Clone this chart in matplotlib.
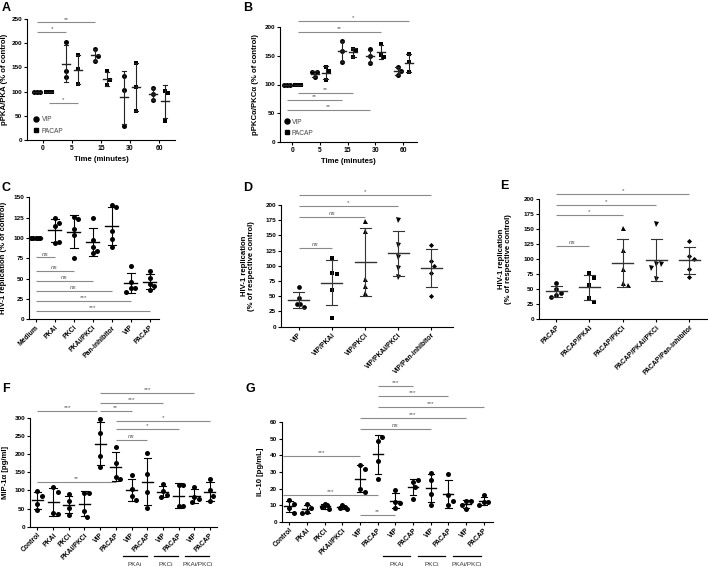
import numpy as np
import matplotlib
matplotlib.use('Agg')
import matplotlib.pyplot as plt
from matplotlib.lines import Line2D
import matplotlib.transforms as mtrans

plt.rcParams['font.family'] = ['Liberation Sans', 'DejaVu Sans']

# ---------------- data ----------------
time_labels = ['0', '5', '15', '30', '60']
a_vip = [[100, 100, 100], [202, 130, 142], [188, 164, 174], [133, 103, 28], [108, 83, 95]]
a_pacap = [[100, 100, 100], [175, 146, 115], [142, 114, 124], [160, 109, 60], [102, 97, 40]]
a_sig = [(-0.2, 1.8, 243, '**'), (-0.2, 0.8, 223, '*'), (0.2, 1.2, 76, '*')]

b_vip = [[100, 100, 100], [113, 122, 122], [176, 158, 139], [161, 149, 138], [131, 124, 116]]
b_pacap = [[100, 100, 100], [130, 124, 108], [161, 160, 147], [171, 152, 148], [153, 139, 122]]
b_sig = [(0.2, 4.2, 210, '*'), (0.2, 3.2, 192, '**'), (0.2, 2.2, 86, '**'),
         (-0.2, 1.8, 73, '**'), (-0.2, 2.8, 56, '**')]

c_cats = ['Medium', 'PKAi', 'PKCi', 'PKAi/PKCi', 'Pan-inhibitor', 'VIP', 'PACAP']
c_vals = [[100, 100, 100, 100, 100], [124, 119, 115, 94, 95], [126, 123, 111, 104, 75],
          [124, 97, 89, 84, 82], [141, 138, 109, 99, 89], [66, 46, 39, 39, 34], [60, 51, 44, 36, 41]]
c_sig = [(0, 1, 76, 'ns'), (0, 2, 60, 'ns'), (0, 3, 47.5, 'ns'), (0, 4, 35, 'ns'),
         (0, 5, 23, '***'), (0, 6, 10.6, '***')]

d_cats = ['VIP', 'VIP/PKAi', 'VIP/PKCi', 'VIP/PKAi/PKCi', 'VIP/Pan-inhibitor']
d_vals = [[65, 47, 38, 37, 33], [113, 88, 86, 61, 15], [174, 158, 78, 67, 55],
          [175, 134, 115, 96, 82], [135, 108, 100, 89, 51]]
d_sig = [(0, 4, 216, '*'), (0, 3, 199, '*'), (0, 2, 181, 'ns'), (0, 1, 130, 'ns')]

e_cats = ['PACAP', 'PACAP/PKAi', 'PACAP/PKCi', 'PACAP/PKAi/PKCi', 'PACAP/Pan-inhibitor']
e_vals = [[60, 50, 44, 40, 37], [76, 69, 56, 35, 29], [151, 115, 84, 60, 57],
          [158, 91, 92, 85, 66], [130, 105, 100, 84, 70]]
e_sig = [(0, 4, 208, '*'), (0, 3, 190, '*'), (0, 2, 173, '*'), (0, 1, 122, 'ns')]

fg_cats = ['Control', 'PKAi', 'PKCi', 'PKAi/PKCi', 'VIP', 'PACAP',
           'VIP', 'PACAP', 'VIP', 'PACAP', 'VIP', 'PACAP']
fg_groups = ['PKAi', 'PKCi', 'PKAi/PKCi']
fg_group_start = [6, 8, 10]

f_vals = [[98, 85, 62, 46], [108, 95, 37, 35], [89, 70, 52, 32], [92, 93, 42, 28],
          [297, 257, 194, 165], [219, 175, 138, 130], [141, 105, 85, 73], [202, 145, 95, 52],
          [117, 97, 88, 83], [115, 114, 57, 56], [110, 83, 77, 68], [130, 100, 85, 70]]
f_sig = [(4, 10, 367, '***'), (4, 8, 340, '***'), (0, 3.8, 319, '***'), (4, 6, 319, '**'),
         (5, 11, 291, '*'), (5, 9, 269, '*'), (5, 7, 240, 'ns'), (0, 5, 122, '**')]

g_vals = [[13, 10.5, 8, 5.5], [10.5, 8.5, 6, 5.5], [10.5, 10, 9, 7.5], [10, 9, 8, 7.5],
          [34, 32, 20, 18], [49, 51, 36.5, 26], [19, 12, 11, 8.5], [24, 25, 21, 14],
          [29.5, 25, 17, 10], [28.5, 16, 10, 12.5], [12.5, 12.5, 10, 7.5], [16, 12, 12, 10]]
g_sig = [(5, 7, 82, '***'), (5, 9, 76, '***'), (5, 11, 69.4, '***'), (4, 10, 62.4, '***'),
         (4, 8, 55.8, 'ns'), (-0.35, 4, 39.5, '***'), (-0.35, 5, 16, '***'), (4, 6, 4, '**')]

# ---------------- figure ----------------
W, H = 708, 568
fig = plt.figure(figsize=(W / 100, H / 100), dpi=100)

YTICK_FS = 4.6
XTICK_FS = 4.9
LAB_FS = 5.6
SIG_FS = 4.6


def add_ax(x0, x1, ytop, ybot):
    return fig.add_axes([x0 / W, 1 - ybot / H, (x1 - x0) / W, (ybot - ytop) / H])


def style_ax(ax):
    for s in ('top', 'right'):
        ax.spines[s].set_visible(False)
    for s in ('left', 'bottom'):
        ax.spines[s].set_linewidth(0.8)
    ax.tick_params(length=2.5, width=0.8, pad=1.0)
    ax.tick_params(axis='y', labelsize=YTICK_FS)
    ax.tick_params(axis='x', labelsize=XTICK_FS)


def bold_ticks(ax):
    for lab in ax.get_xticklabels() + ax.get_yticklabels():
        lab.set_fontweight('bold')


def px_per_unit(ax):
    t = ax.transData
    x0, y0 = t.transform((0, 0))
    x1, y1 = t.transform((1, 1))
    return x1 - x0, y1 - y0


def swarm_x(ax, xc, vals, dmin=5.5, step=2.75, maxhalf=5.0):
    sx, sy = px_per_unit(ax)
    placed, offs = [], []
    for v in vals:
        py = v * sy
        for k in [0, 1, -1, 2, -2, 3, -3, 4, -4, 5, -5]:
            px = k * step
            if all((px - qx) ** 2 + (py - qy) ** 2 >= dmin ** 2 for qx, qy in placed):
                break
        placed.append((px, py))
        offs.append(px)
    offs = np.array(offs, float)
    m = np.abs(offs).max()
    if m > maxhalf:
        offs *= maxhalf / m
    return xc + offs / sx


def draw_group(ax, xc, vals, marker='o', ms=3.6, mean_half=5, cap_half=3,
               ecolor='black', maxhalf=5.0):
    sx, sy = px_per_unit(ax)
    vals = np.asarray(vals, float)
    xs = swarm_x(ax, xc, vals, maxhalf=maxhalf)
    ax.plot(xs, vals, ls='none', marker=marker, ms=ms, color='black', mew=0,
            zorder=3, clip_on=False)
    m = vals.mean()
    s = vals.std(ddof=1)
    mh = mean_half / sx
    ch = cap_half / sx
    ax.plot([xc - mh, xc + mh], [m, m], color=ecolor, lw=1.0, zorder=4, clip_on=False)
    ax.plot([xc, xc], [m - s, m + s], color=ecolor, lw=0.8, zorder=4, clip_on=False)
    for y in (m - s, m + s):
        ax.plot([xc - ch, xc + ch], [y, y], color=ecolor, lw=0.8, zorder=4, clip_on=False)


def sig(ax, x1, x2, y, label, color='#8a8a8a'):
    ax.plot([x1, x2], [y, y], color=color, lw=0.8, clip_on=False, solid_capstyle='butt')
    ax.annotate(label, xy=((x1 + x2) / 2, y), xytext=(0, 0.6), textcoords='offset points',
                ha='center', va='bottom', fontsize=SIG_FS, color='#555555',
                style='italic' if label == 'ns' else 'normal', annotation_clip=False)


def ylabel_at(ax, text, xpx):
    ax.set_ylabel(text, fontsize=LAB_FS, fontweight='bold', linespacing=1.0)
    bb = ax.get_position()
    x_ax = (xpx / W - bb.x0) / bb.width
    ax.yaxis.set_label_coords(x_ax, 0.5)


def panel_letter(x, y, t):
    fig.text(x / W, 1 - y / H, t, fontsize=9, fontweight='bold', ha='left', va='center')


# ---------------- Panel A ----------------
axA = add_ax(27, 175, 19, 140)
axA.set_xlim(-0.55, 4.55)
axA.set_ylim(0, 250)
style_ax(axA)
axA.set_yticks(np.arange(0, 251, 50))
axA.set_xticks(range(len(time_labels)), time_labels)
for i in range(len(time_labels)):
    draw_group(axA, i - 0.2, a_vip[i], 'o', mean_half=4, cap_half=2.2, ecolor='#222', maxhalf=3)
    draw_group(axA, i + 0.2, a_pacap[i], 's', ms=3.4, mean_half=4, cap_half=2.2, ecolor='#222', maxhalf=3)
for s_ in a_sig:
    sig(axA, *s_)
axA.set_xlabel('Time (minutes)', fontsize=LAB_FS, fontweight='bold', labelpad=3)
ylabel_at(axA, 'pPKA/PKA (% of control)', 8)
hA = [Line2D([], [], marker='o', ls='none', color='black', ms=3.6),
      Line2D([], [], marker='s', ls='none', color='black', ms=3.4)]
axA.legend(hA, ['VIP', 'PACAP'], loc='lower left', bbox_to_anchor=(0.0, 0.0), frameon=False,
           fontsize=4.8, handletextpad=0.2, labelspacing=0.7, handlelength=1.2,
           borderaxespad=0.4, labelcolor='#444')
bold_ticks(axA)

# ---------------- Panel B ----------------
axB = add_ax(280, 417, 27, 142)
axB.set_xlim(-0.45, 4.5)
axB.set_ylim(0, 200)
style_ax(axB)
axB.set_yticks(np.arange(0, 201, 50))
axB.set_xticks(range(len(time_labels)), time_labels)
for i in range(len(time_labels)):
    draw_group(axB, i - 0.2, b_vip[i], 'o', mean_half=4, cap_half=2.2, ecolor='#222', maxhalf=3)
    draw_group(axB, i + 0.2, b_pacap[i], 's', ms=3.4, mean_half=4, cap_half=2.2, ecolor='#222', maxhalf=3)
for s_ in b_sig:
    sig(axB, *s_)
axB.set_xlabel('Time (minutes)', fontsize=LAB_FS, fontweight='bold', labelpad=3)
ylabel_at(axB, 'pPKCα/PKCα (% of control)', 259)
axB.legend(hA, ['VIP', 'PACAP'], loc='lower left', bbox_to_anchor=(-0.02, 0.0), frameon=False,
           fontsize=4.8, handletextpad=0.2, labelspacing=0.6, handlelength=1.2,
           borderaxespad=0.4, labelcolor='#444')
bold_ticks(axB)

# ---------------- Panel C ----------------
axC = add_ax(29, 159, 197.3, 319.3)
axC.set_xlim(-0.35, 6.49)
axC.set_ylim(0, 150)
style_ax(axC)
axC.set_yticks(np.arange(0, 151, 25))
axC.set_xticks(range(len(c_cats)), c_cats, rotation=45, ha='right', rotation_mode='anchor')
for i, v in enumerate(c_vals):
    draw_group(axC, i, v, 'o', mean_half=6.5, cap_half=4, ecolor='black', maxhalf=4.5)
for s_ in c_sig:
    sig(axC, *s_)
ylabel_at(axC, 'HIV-1 replication (% of control)', 7)
bold_ticks(axC)

# ---------------- Panel D ----------------
markers5 = ['o', 's', '^', 'v', 'D']
sizes5 = [3.4, 3.4, 3.6, 3.6, 2.6]
axD = add_ax(280.7, 453, 205, 326.7)
axD.set_xlim(-0.54, 4.65)
axD.set_ylim(0, 200)
style_ax(axD)
axD.set_yticks(np.arange(0, 201, 25))
axD.set_xticks(range(len(d_cats)), d_cats, rotation=45, ha='right', rotation_mode='anchor')
for i, v in enumerate(d_vals):
    draw_group(axD, i, v, markers5[i], ms=sizes5[i], mean_half=10.5, cap_half=5.5, ecolor='#333')
for s_ in d_sig:
    sig(axD, *s_)
ylabel_at(axD, 'HIV-1 replication\n(% of respective control)', 255)
bold_ticks(axD)

# ---------------- Panel E ----------------
axE = add_ax(539, 707, 199, 319)
axE.set_xlim(-0.51, 4.53)
axE.set_ylim(0, 200)
style_ax(axE)
axE.set_yticks(np.arange(0, 201, 25))
axE.set_xticks(range(len(e_cats)), e_cats, rotation=45, ha='right', rotation_mode='anchor')
for i, v in enumerate(e_vals):
    draw_group(axE, i, v, markers5[i], ms=sizes5[i], mean_half=10.5, cap_half=5.5, ecolor='#333')
for s_ in e_sig:
    sig(axE, *s_)
ylabel_at(axE, 'HIV-1 replication\n(% of respective control)', 512)
bold_ticks(axE)


# ---------------- Panels F & G ----------------
def group_underlines(ax, loff, roff, yline=556, ytext=564):
    tr = mtrans.blended_transform_factory(ax.transData, fig.transFigure)
    for i, name in zip(fg_group_start, fg_groups):
        x1, x2 = i + loff, i + 1 + roff
        ax.plot([x1, x2], [1 - yline / H] * 2, transform=tr, color='black', lw=0.9, clip_on=False)
        ax.text((x1 + x2) / 2, 1 - ytext / H, name, transform=tr, ha='center', va='center',
                fontsize=4.6, color='#333', clip_on=False)


axF = add_ax(30, 216.7, 417.7, 526.7)
axF.set_xlim(-0.47, 11.43)
axF.set_ylim(0, 300)
style_ax(axF)
axF.set_yticks(np.arange(0, 301, 50))
axF.set_xticks(range(len(fg_cats)), fg_cats, rotation=45, ha='right', rotation_mode='anchor')
for i, v in enumerate(f_vals):
    draw_group(axF, i, v, 'o', mean_half=5.5, cap_half=3.6, ecolor='black', maxhalf=4.5)
for s_ in f_sig:
    sig(axF, *s_)
ylabel_at(axF, 'MIP-1α [pg/ml]', 9)
group_underlines(axF, -0.56, -0.03)
bold_ticks(axF)

axG = add_ax(281.7, 492.7, 422.3, 521.7)
axG.set_xlim(-0.43, 11.5)
axG.set_ylim(0, 60)
style_ax(axG)
axG.set_yticks(np.arange(0, 61, 10))
axG.set_xticks(range(len(fg_cats)), fg_cats, rotation=45, ha='right', rotation_mode='anchor')
for i, v in enumerate(g_vals):
    draw_group(axG, i, v, 'o', mean_half=5, cap_half=3.2, ecolor='black', maxhalf=4.5)
for s_ in g_sig:
    sig(axG, *s_)
ylabel_at(axG, 'IL-10 [pg/mL]', 264)
group_underlines(axG, -0.72, -0.18)
bold_ticks(axG)

# ---------------- panel letters ----------------
panel_letter(2, 8, 'A')
panel_letter(243, 8, 'B')
panel_letter(2, 188, 'C')
panel_letter(243, 188, 'D')
panel_letter(500, 186, 'E')
panel_letter(2, 389, 'F')
panel_letter(246, 389, 'G')

fig.savefig('out.png', dpi=100)
